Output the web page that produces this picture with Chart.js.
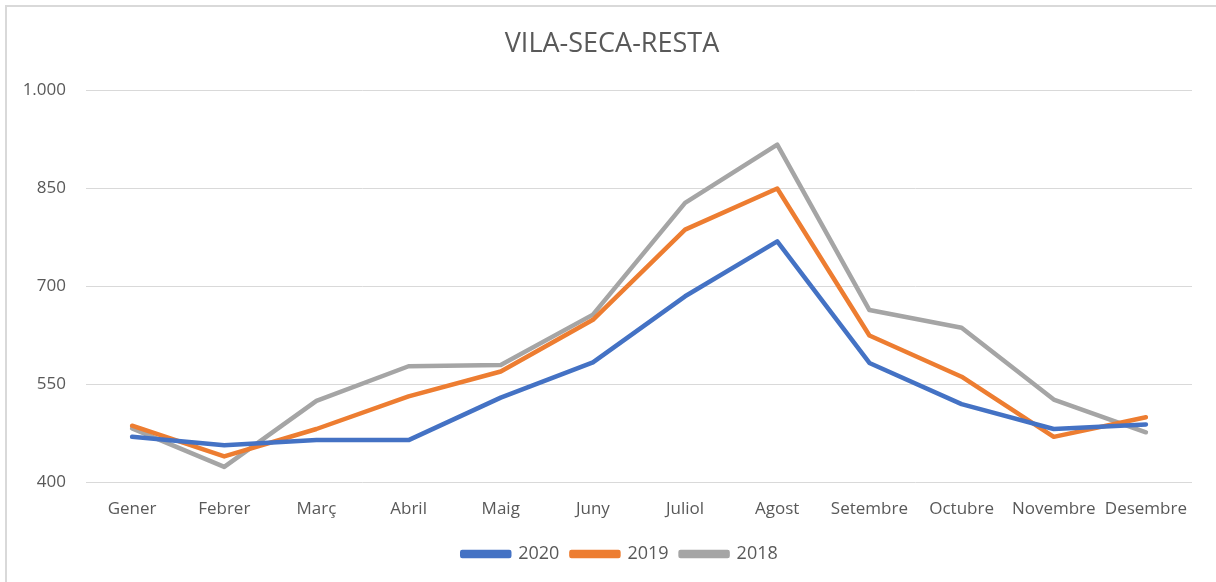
<!DOCTYPE html>
<html>
<head>
<meta charset="utf-8">
<script src="https://cdn.jsdelivr.net/npm/chart.js@4/dist/chart.umd.min.js"></script>
<style>
  html, body { margin: 0; padding: 0; background: #fff; }
  #wrap { position: relative; width: 1216px; height: 582px; }
  canvas { display: block; }
</style>
</head>
<body>
<div id="wrap"><canvas id="c" width="1216" height="582"></canvas></div>
<script>
const title = "VILA-SECA-RESTA";
const months = ["Gener","Febrer","Març","Abril","Maig","Juny","Juliol","Agost","Setembre","Octubre","Novembre","Desembre"];
const seriesNames = ["2020","2019","2018"];
const values2020 = [470, 457, 465, 465, 530, 584, 685, 769, 583, 520, 482, 489];
const values2019 = [487, 440, 482, 532, 570, 649, 787, 850, 625, 562, 470, 500];
const values2018 = [483, 424, 525, 578, 580, 657, 828, 917, 664, 637, 527, 477];
const yTicks = [400, 550, 700, 850, 1000];
const colors = ["#4472C4", "#ED7D31", "#A5A5A5"];

const FONT = "'Open Sans', 'Liberation Sans', sans-serif";

const borderPlugin = {
  id: 'frame',
  beforeDraw(chart) {
    const ctx = chart.ctx;
    ctx.save();
    ctx.fillStyle = '#fff';
    ctx.fillRect(0, 0, chart.width, chart.height);
    ctx.strokeStyle = '#d9d9d9';
    ctx.lineWidth = 2;
    ctx.beginPath();
    ctx.moveTo(6, chart.height);
    ctx.lineTo(6, 6);
    ctx.lineTo(chart.width, 6);
    ctx.stroke();
    ctx.restore();
  }
};

// nudge title and legend to be centred like the Excel original
const nudgePlugin = {
  id: 'nudge',
  afterLayout(chart) {
    const t = chart.titleBlock;
    if (t) { t.left += 12; t.right += 12; }
    const l = chart.legend;
    if (l) { l.left += 20; l.right += 20; l.top -= 2; l.bottom -= 2; }
  }
};

new Chart(document.getElementById('c'), {
  type: 'line',
  data: {
    labels: months,
    datasets: [
      { label: seriesNames[0], data: values2020, borderColor: colors[0], backgroundColor: colors[0] },
      { label: seriesNames[1], data: values2019, borderColor: colors[1], backgroundColor: colors[1] },
      { label: seriesNames[2], data: values2018, borderColor: colors[2], backgroundColor: colors[2] }
    ].map(d => Object.assign(d, { borderWidth: 4.5, pointRadius: 0, pointHoverRadius: 0, tension: 0, fill: false, borderCapStyle: 'round', borderJoinStyle: 'round' }))
  },
  options: {
    responsive: false,
    animation: false,
    devicePixelRatio: 1,
    layout: { padding: { left: 8, right: 24, top: 0, bottom: 7 } },
    plugins: {
      title: {
        display: true, text: title, color: '#595959',
        font: { family: FONT, size: 27, weight: 'normal' },
        padding: { top: 28, bottom: 30 }
      },
      legend: {
        position: 'bottom',
        labels: {
          color: '#595959',
          font: { family: FONT, size: 18 },
          boxWidth: 47, boxHeight: 4,
          padding: 12
        }
      },
      tooltip: { enabled: false }
    },
    scales: {
      x: {
        offset: true,
        grid: { display: false, drawTicks: false },
        border: { display: false },
        ticks: { color: '#595959', font: { family: FONT, size: 17 }, padding: 16, maxRotation: 0, autoSkip: false }
      },
      y: {
        min: 400, max: 1000,
        afterBuildTicks(axis) { axis.ticks = yTicks.map(v => ({ value: v })); },
        afterFit(axis) { axis.width = 78; },
        grid: { color: '#d9d9d9', lineWidth: 1, drawTicks: false },
        border: { display: false },
        ticks: {
          color: '#595959', font: { family: FONT, size: 17 }, padding: 20,
          callback: v => v.toLocaleString('de-DE')
        }
      }
    }
  },
  plugins: [borderPlugin, nudgePlugin]
});
</script>
</body>
</html>
